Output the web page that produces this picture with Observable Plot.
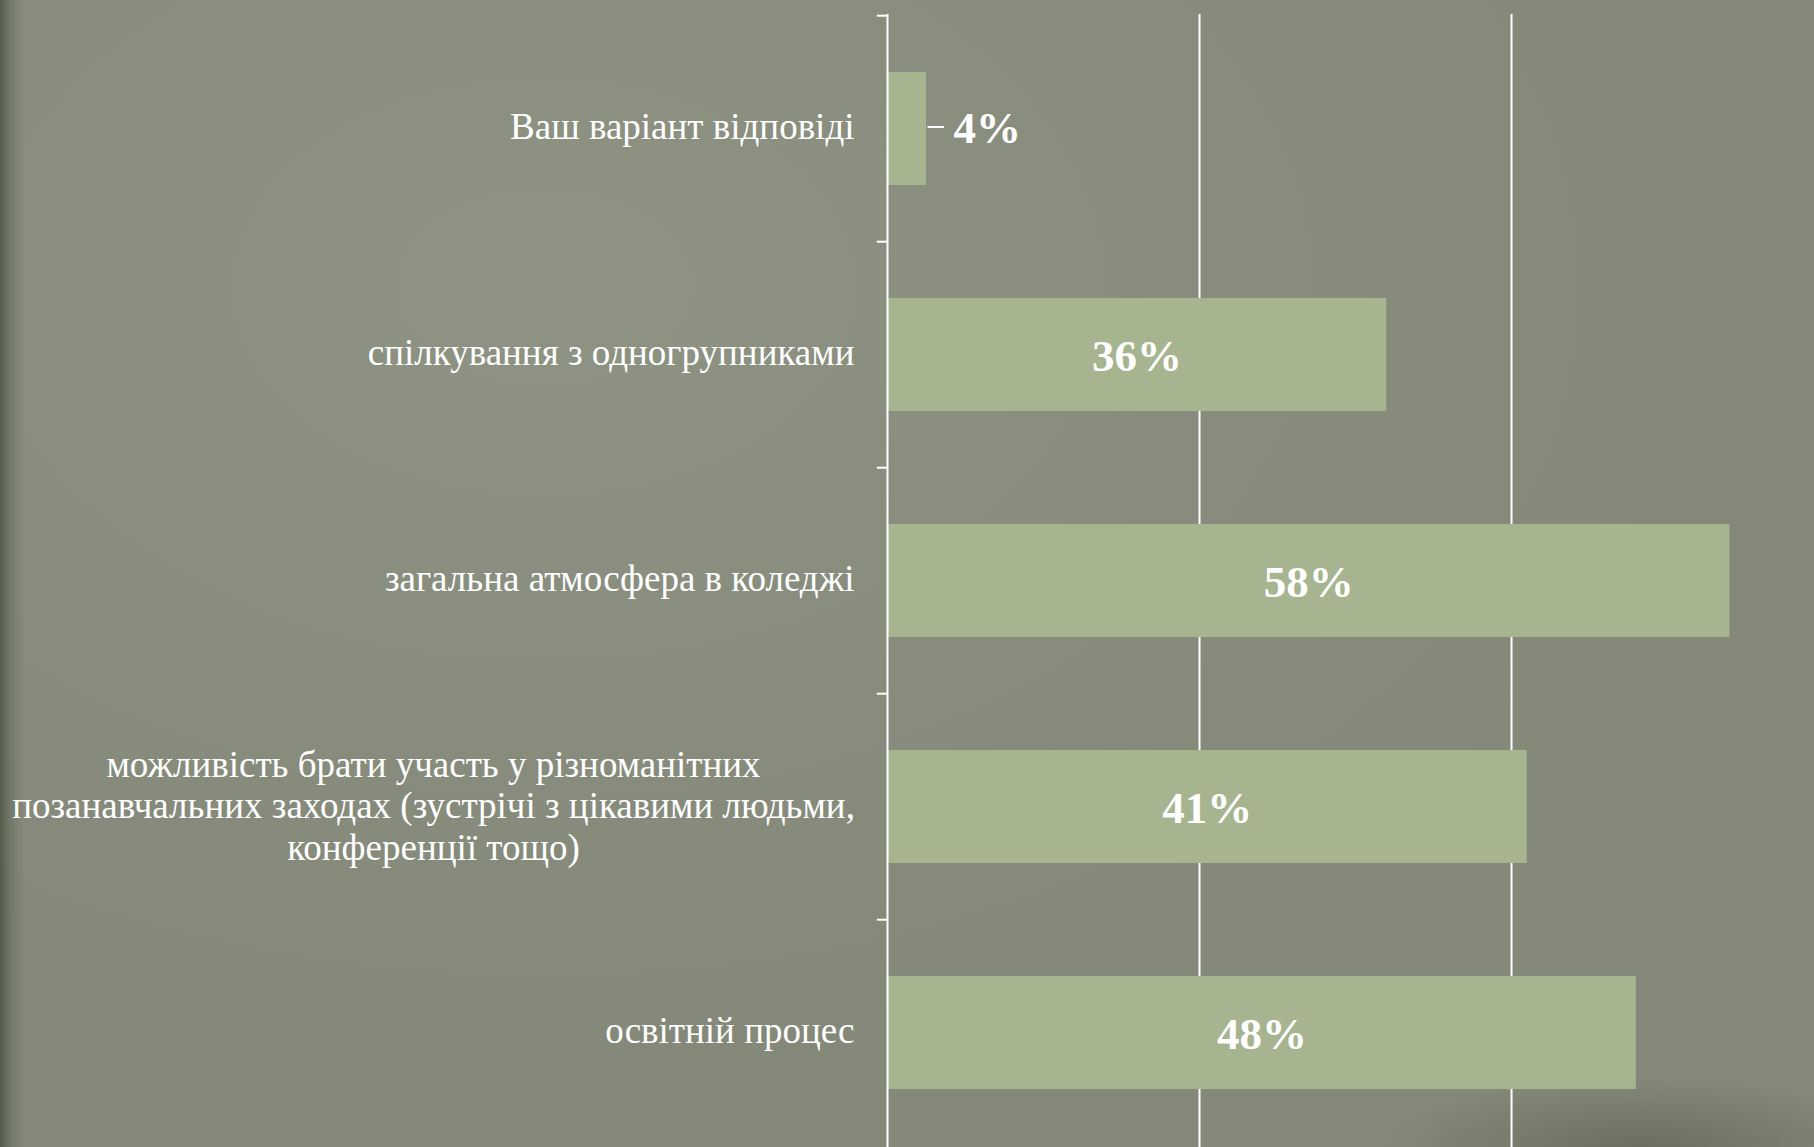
<!DOCTYPE html>
<html>
<head>
<meta charset="utf-8">
<script src="https://cdn.jsdelivr.net/npm/d3@7"></script>
<script src="https://cdn.jsdelivr.net/npm/@observablehq/plot@0.6"></script>
<style>
  html, body { margin: 0; padding: 0; }
  body {
    width: 1814px; height: 1147px; overflow: hidden;
    background:
      linear-gradient(to right, rgba(70,78,60,0.75) 0px, rgba(90,97,80,0.45) 10px, rgba(0,0,0,0) 24px),
      radial-gradient(ellipse 260px 70px at 1640px 1147px, rgba(75,80,65,0.45), rgba(0,0,0,0) 100%),
      radial-gradient(ellipse 1200px 800px at 30% 25%, #8e9384 0%, #888c7d 55%, #82867762 100%),
      #858a7a;
  }
  #chart svg { display: block; }
</style>
</head>
<body>
<div id="chart"></div>
<script>
// Categories, top to bottom
const categories = [
  "Ваш варіант відповіді",
  "спілкування з одногрупниками",
  "загальна атмосфера в коледжі",
  "можливість брати участь у різноманітних\nпозанавчальних заходах (зустрічі з цікавими людьми,\nконференції тощо)",
  "освітній процес"
];
// Bar lengths (grid lines at 20 and 40)
const barValues = [2.5, 32, 54, 41, 48];
// Data-label texts as printed on the chart
const valueLabels = ["4%", "36%", "58%", "41%", "48%"];
// Vertical grid lines
const gridTicks = [20, 40];

const data = categories.map((c, i) => ({cat: c, value: barValues[i], label: valueLabels[i]}));
const inside = data.filter(d => d.value >= 10);
const outside = data.filter(d => d.value < 10);
const singleLine = data.filter(d => !d.cat.includes("\n"));
const multiLine = data.filter(d => d.cat.includes("\n"));

const W = 1814, H = 1147, mTop = 14, mLeft = 887;
const step = (H - mTop) / categories.length;

const chart = Plot.plot({
  width: W,
  height: H,
  marginTop: mTop,
  marginBottom: 0,
  marginLeft: mLeft,
  marginRight: 0,
  style: {background: "transparent", color: "white", fontFamily: "'Liberation Serif', 'DejaVu Serif', serif"},
  x: {domain: [0, 59.42], axis: null},
  y: {domain: categories, axis: null, paddingInner: 0.5, paddingOuter: 0.25},
  marks: [
    Plot.ruleX(gridTicks, {stroke: "white", strokeWidth: 2}),
    Plot.barX(data, {y: "cat", x: "value", fill: "#a6b490"}),
    Plot.ruleX([0], {stroke: "white", strokeWidth: 2}),
    Plot.ruleY(categories, {y: d => d, x1: -0.65, x2: 0, dy: -step / 2, stroke: "white", strokeWidth: 2}),
    Plot.text(inside, {y: "cat", x: d => d.value / 2, dy: 2, text: "label", fill: "white",
      fontSize: 45, fontWeight: "bold"}),
    Plot.ruleY(outside, {y: "cat", x1: d => d.value + 0.1, x2: d => d.value + 1.15,
      dy: -2, stroke: "white", strokeWidth: 2}),
    Plot.text(outside, {y: "cat", x: "value", dx: 27, dy: 0, text: "label", fill: "white",
      fontSize: 45, fontWeight: "bold", textAnchor: "start"}),
    Plot.text(singleLine, {y: "cat", x: 0, dx: -33, dy: -2, text: "cat", fill: "white",
      fontSize: 37, textAnchor: "end"}),
    Plot.text(multiLine, {y: "cat", x: 0, dx: -454, dy: -2, text: "cat", fill: "white",
      fontSize: 37, textAnchor: "middle", lineHeight: 1.125})
  ]
});
document.getElementById("chart").appendChild(chart);
</script>
</body>
</html>
